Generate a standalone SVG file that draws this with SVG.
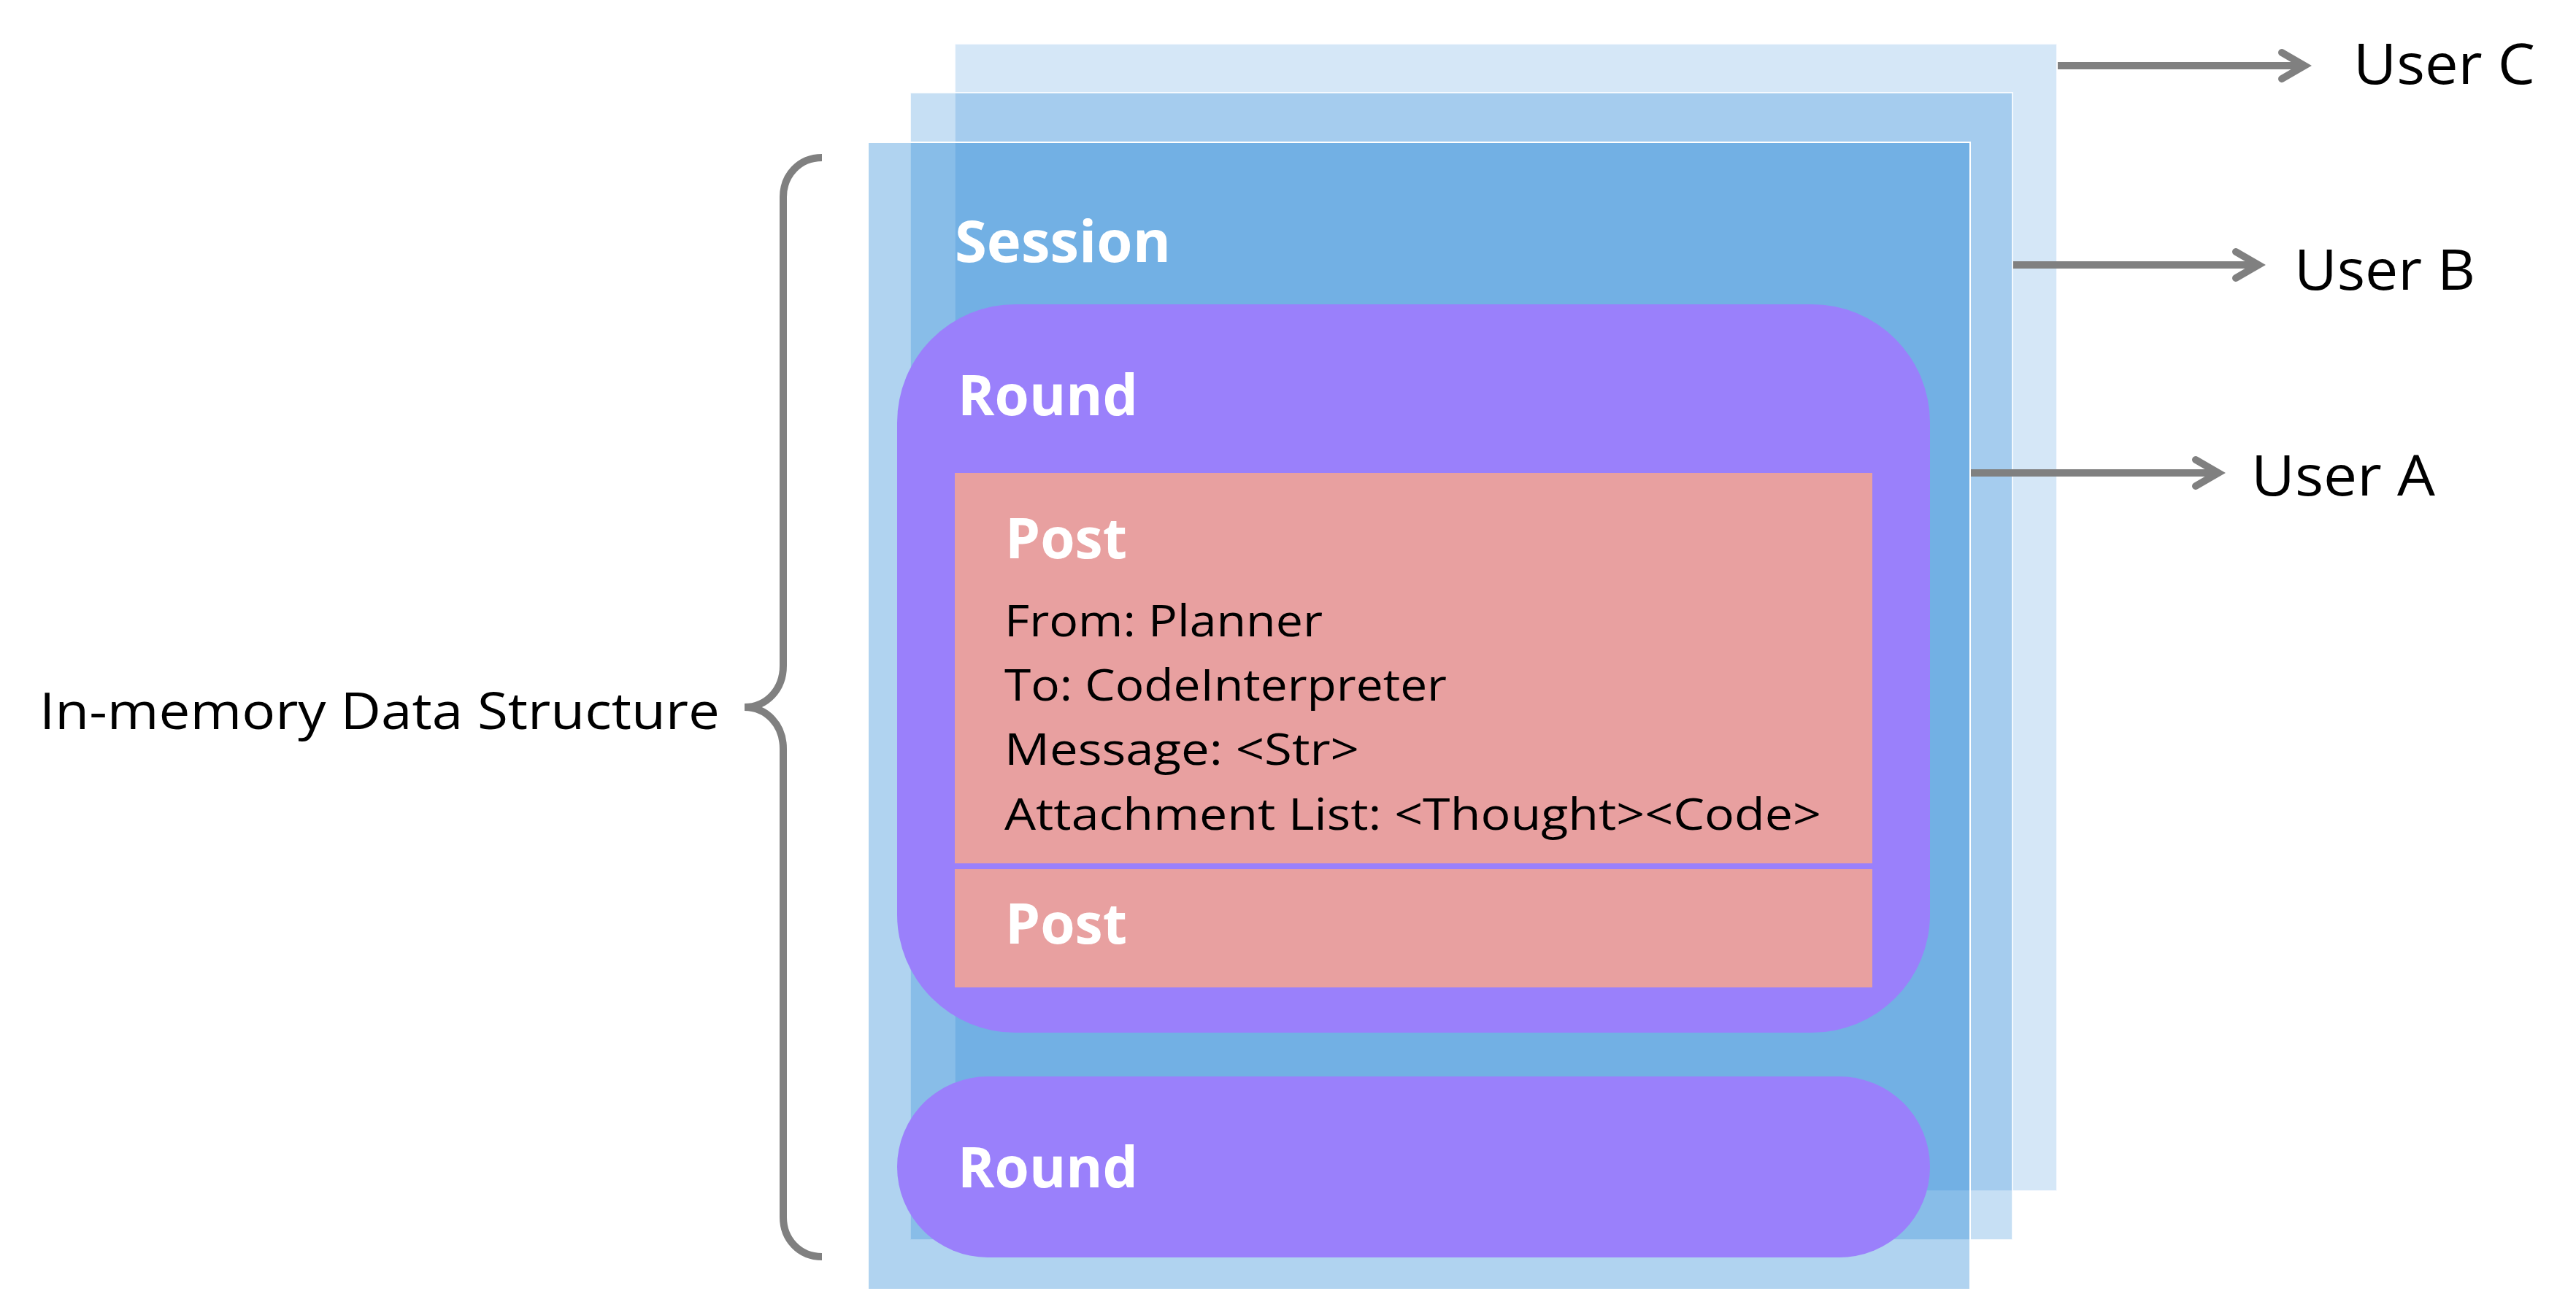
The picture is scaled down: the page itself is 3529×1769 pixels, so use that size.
<svg xmlns="http://www.w3.org/2000/svg" width="3529" height="1769" viewBox="0 0 3529 1769">
<style>
.layer{fill:#0070d0;stroke:#ffffff;stroke-width:2}
.round{fill:#9a80fb}
.post{fill:#e8a0a0}
.bold{font-family:"Open Sans","Noto Sans","Liberation Sans",sans-serif;font-weight:700;fill:#ffffff}
.reg{font-family:"Open Sans","Noto Sans","Liberation Sans",sans-serif;font-weight:400;fill:#000000}
.line{stroke:#808080;stroke-width:10;fill:none}
.head{stroke:#808080;stroke-width:10;fill:none;stroke-linecap:round;stroke-linejoin:miter}
</style>
<rect width="3529" height="1769" fill="#ffffff"/>
<g id="userC-session">
<rect class="layer" x="1308" y="60" width="1510" height="1572" fill-opacity="0.165" stroke-opacity="0.8"/>
</g>
<g id="userB-session">
<rect class="layer" x="1247" y="127" width="1510" height="1572" fill-opacity="0.225" stroke-opacity="0.8"/>
</g>
<g id="session">
<rect class="layer" x="1189" y="195" width="1510" height="1572" fill-opacity="0.31"/>
<text class="bold" x="1308" y="359" font-size="78" textLength="296" lengthAdjust="spacingAndGlyphs">Session</text>
</g>
<g id="round1">
<rect class="round" x="1229" y="417" width="1415" height="998" rx="162" ry="162"/>
<text class="bold" x="1312" y="569" font-size="77" textLength="247" lengthAdjust="spacingAndGlyphs">Round</text>
</g>
<g id="post1">
<rect class="post" x="1308" y="648" width="1257" height="535"/>
<text class="bold" x="1377" y="765" font-size="77" textLength="167" lengthAdjust="spacingAndGlyphs">Post</text>
<text class="reg" x="1376" y="872" font-size="61" textLength="436" lengthAdjust="spacingAndGlyphs">From: Planner</text>
<text class="reg" x="1376" y="960" font-size="61" textLength="606" lengthAdjust="spacingAndGlyphs">To: CodeInterpreter</text>
<text class="reg" x="1376" y="1048" font-size="61" textLength="486" lengthAdjust="spacingAndGlyphs">Message: &lt;Str&gt;</text>
<text class="reg" x="1376" y="1137" font-size="61" textLength="1119" lengthAdjust="spacingAndGlyphs">Attachment List: &lt;Thought&gt;&lt;Code&gt;</text>
</g>
<g id="post2">
<rect class="post" x="1308" y="1191" width="1257" height="162"/>
<text class="bold" x="1377" y="1293" font-size="77" textLength="167" lengthAdjust="spacingAndGlyphs">Post</text>
</g>
<g id="round2">
<rect class="round" x="1229" y="1475" width="1415" height="248" rx="124" ry="124"/>
<text class="bold" x="1312" y="1627" font-size="77" textLength="247" lengthAdjust="spacingAndGlyphs">Round</text>
</g>
<g id="label-in-memory">
<path class="line" d="M1126 216 C1095 216 1073 240 1073 270 L1073 912 C1073 945 1050 969 1020 969 C1050 969 1073 993 1073 1026 L1073 1668 C1073 1698 1095 1722 1126 1722" stroke-linecap="butt"/>
<text class="reg" x="54" y="999" font-size="70" textLength="932" lengthAdjust="spacingAndGlyphs">In-memory Data Structure</text>
</g>
<g id="userC">
<text class="reg" x="3224" y="115" font-size="77" textLength="249" lengthAdjust="spacingAndGlyphs">User C</text>
</g>
<g id="userB">
<text class="reg" x="3143" y="397" font-size="77" textLength="248" lengthAdjust="spacingAndGlyphs">User B</text>
</g>
<g id="userA">
<text class="reg" x="3084" y="679" font-size="77" textLength="252" lengthAdjust="spacingAndGlyphs">User A</text>
</g>
<g id="connectors">
<line class="line" x1="2819" y1="90" x2="3158" y2="90"/>
<polyline class="head" points="3126,72 3157,90 3126,108"/>
<line class="line" x1="2758" y1="363" x2="3095" y2="363"/>
<polyline class="head" points="3063,345 3094,363 3063,381"/>
<line class="line" x1="2700" y1="648" x2="3040" y2="648"/>
<polyline class="head" points="3008,630 3039,648 3008,666"/>
</g>
</svg>
